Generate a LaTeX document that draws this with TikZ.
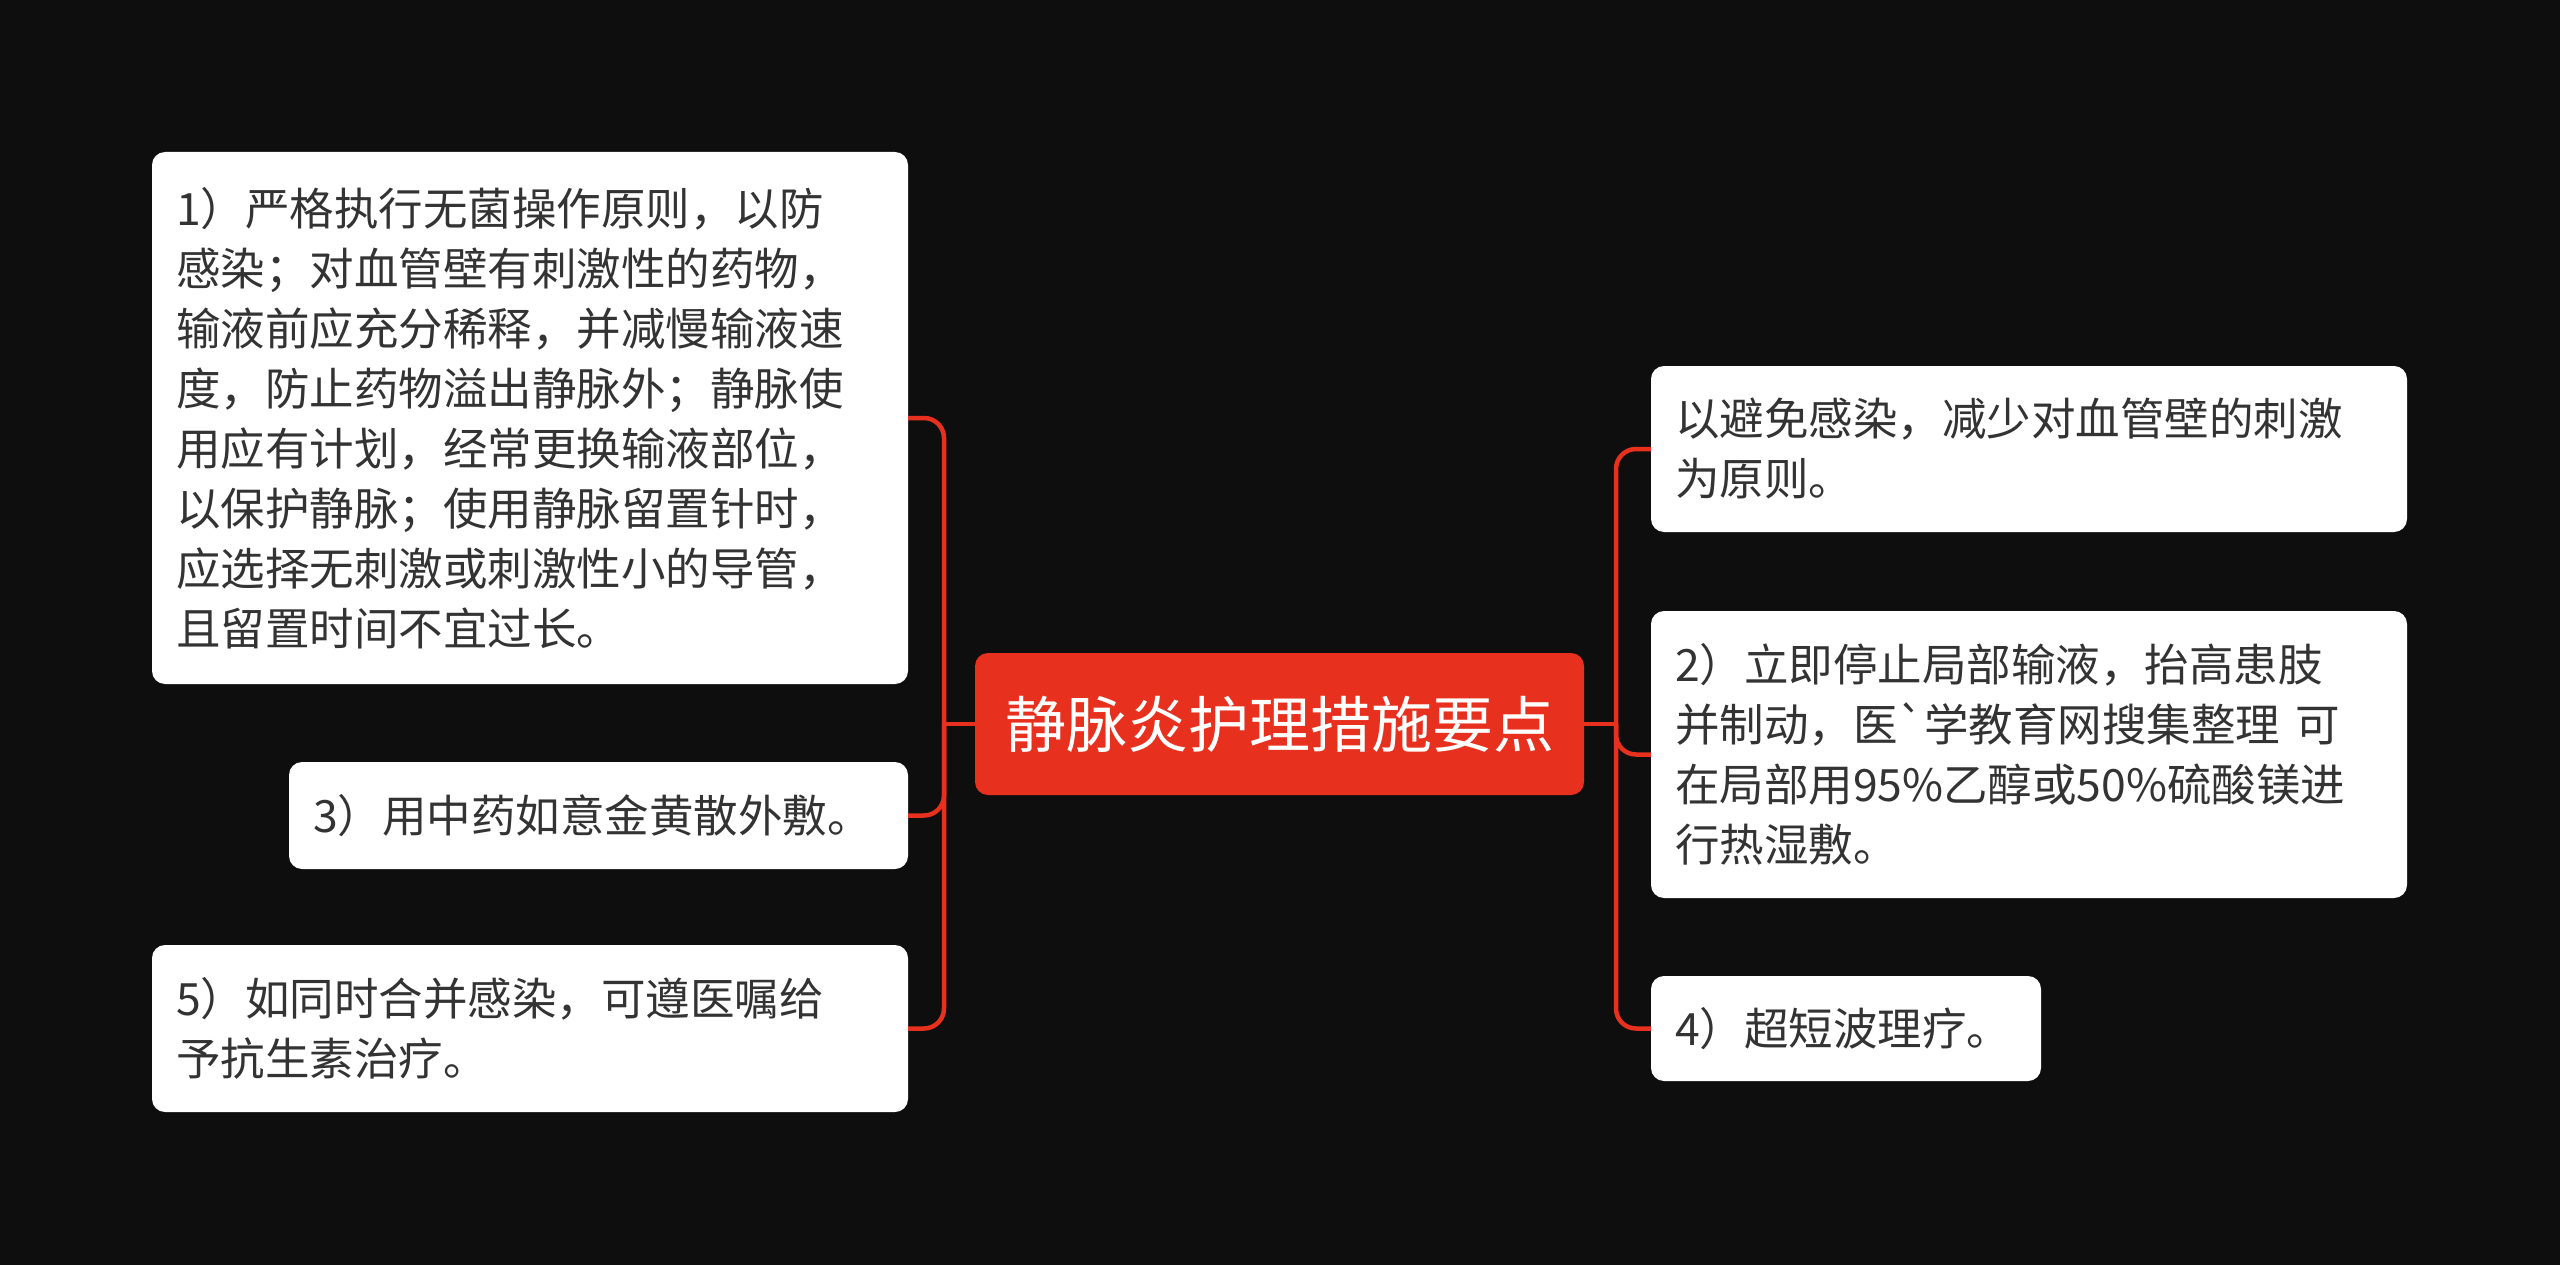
\documentclass[tikz,border=0pt]{standalone}
\usepackage{fontspec}
\setmainfont{Noto Sans CJK SC}
\newfontfamily\plaincjk{Noto Sans CJK SC}
\usepackage{tikz}
\definecolor{bgdark}{HTML}{0E0E0E}
\definecolor{mapred}{HTML}{E8301E}
\definecolor{leaftext}{HTML}{333333}
\tikzstyle{topic} = [rectangle, rounded corners=13pt, fill=mapred, text=white, inner sep=0pt, font=\fontsize{61}{70}\selectfont, align=center]
\tikzstyle{leaf} = [rectangle, rounded corners=13pt, fill=white, text=leaftext, inner xsep=24pt, inner ysep=0pt, font=\fontsize{44.5}{60}\selectfont, align=left]
\tikzstyle{link} = [draw=mapred, line width=4.5pt, rounded corners=20pt]

\begin{document}
\begin{tikzpicture}[x=1pt, y=-1pt]

\fill[bgdark] (0,0) rectangle (2560,1265);
\useasboundingbox (0,0) rectangle (2560,1265);

\node (root) [topic, minimum width=609pt, minimum height=142pt] at (1279.5,724) {静脉炎护理措施要点};

\node (b1) [leaf, text width=708pt, minimum height=532pt] at (530,418) {1）严格执行无菌操作原则，以防\\感染；对血管壁有刺激性的药物，\\输液前应充分稀释，并减慢输液速\\度，防止药物溢出静脉外；静脉使\\用应有计划，经常更换输液部位，\\以保护静脉；使用静脉留置针时，\\应选择无刺激或刺激性小的导管，\\且留置时间不宜过长。};
\node (b3) [leaf, text width=571pt, minimum height=107pt] at (598.5,815.5) {3）用中药如意金黄散外敷。};
\node (b5) [leaf, text width=708pt, minimum height=167pt] at (530,1028.5) {5）如同时合并感染，可遵医嘱给\\予抗生素治疗。};

\node (ra) [leaf, text width=708pt, minimum height=166pt] at (2029,449) {以避免感染，减少对血管壁的刺激\\为原则。};
\node (r2) [leaf, text width=708pt, minimum height=287pt] at (2029,754.5) {2）立即停止局部输液，抬高患肢\\并制动，医{\plaincjk `}学教育网搜集整理 可\\在局部用95\%乙醇或50\%硫酸镁进\\行热湿敷。};
\node (r4) [leaf, text width=342pt, minimum height=105pt] at (1846,1028.5) {4）超短波理疗。};

\coordinate (lj) at (944,724);
\coordinate (rj) at (1616,724);

\draw [link] (root.west) -- (lj);
\draw [link] (lj) |- (b1.east);
\draw [link] (lj) |- (b3.east);
\draw [link] (lj) |- (b5.east);
\draw [link] (root.east) -- (rj);
\draw [link] (rj) |- (ra.west);
\draw [link] (rj) |- (r2.west);
\draw [link] (rj) |- (r4.west);

\end{tikzpicture}
\end{document}
